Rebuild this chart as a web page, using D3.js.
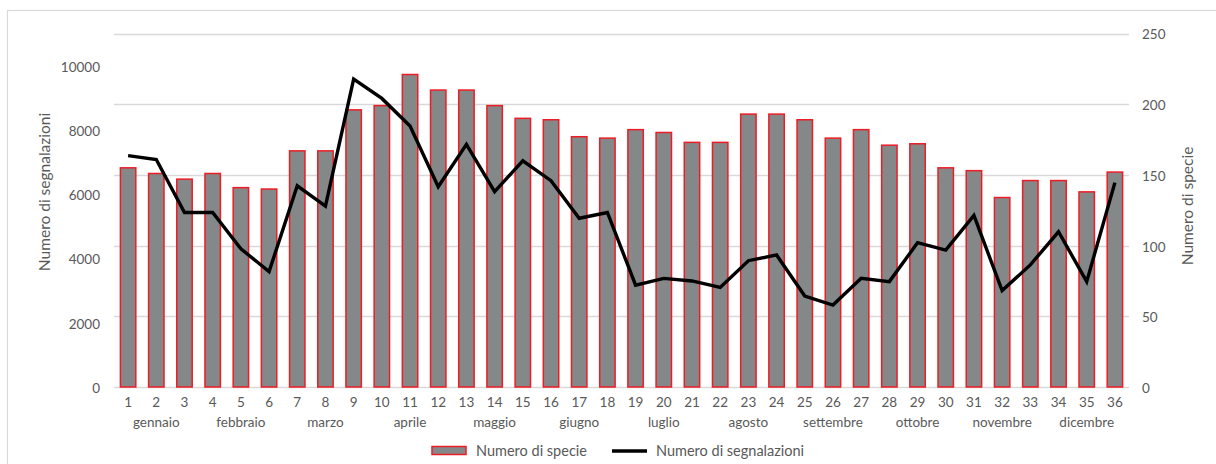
<!DOCTYPE html>
<html>
<head>
<meta charset="utf-8">
<script src="https://cdn.jsdelivr.net/npm/d3@7"></script>
<style>
  html, body { margin: 0; padding: 0; background: #fff; }
  svg { display: block; }
  text { font-family: Lato, "Open Sans", sans-serif; fill: #595959; }
</style>
</head>
<body>
<svg id="chart" width="1216" height="464"></svg>
<script>
const weeks = d3.range(1, 37).map(String);
const months = ["gennaio","febbraio","marzo","aprile","maggio","giugno","luglio","agosto","settembre","ottobre","novembre","dicembre"];
const species = [155,151,147,151,141,140,167,167,196,199,221,210,210,199,190,189,177,176,182,180,173,173,193,193,189,176,182,171,172,155,153,134,146,146,138,152];
const reports = [7200,7080,5430,5430,4300,3590,6260,5630,9580,8980,8120,6230,7550,6080,7040,6420,5250,5430,3170,3380,3300,3100,3930,4110,2830,2550,3380,3280,4490,4260,5340,3000,3800,4830,3280,6360];
const leftTicks = [0,2000,4000,6000,8000,10000];
const rightTicks = [0,50,100,150,200,250];
const seriesNames = ["Numero di specie","Numero di segnalazioni"];
const axisTitles = ["Numero di segnalazioni","Numero di specie"];

const svg = d3.select("#chart");
const m = {left:114, right:1129, top:33.5, bottom:387};

// outer frame
svg.append("rect").attr("x",7.5).attr("y",10.5).attr("width",1230).attr("height",480)
  .attr("fill","none").attr("stroke","#d9d9d9").attr("stroke-width",1.2);

const x = d3.scaleBand().domain(weeks).range([m.left, m.right]).paddingInner(0.4).paddingOuter(0.2);
const yR = d3.scaleLinear().domain([0,250]).range([m.bottom, m.top]);
const yL = d3.scaleLinear().domain([0,11000]).range([m.bottom, m.top]);

// gridlines (right axis)
svg.append("g").selectAll("line").data(rightTicks).join("line")
  .attr("x1", m.left).attr("x2", m.right)
  .attr("y1", d => Math.round(yR(d))+0.5).attr("y2", d => Math.round(yR(d))+0.5)
  .attr("stroke","#d9d9d9").attr("stroke-width",1.3);

// bars
svg.append("g").selectAll("rect").data(species).join("rect")
  .attr("x", (d,i) => x(weeks[i]) + 0.75)
  .attr("y", d => yR(d))
  .attr("width", x.bandwidth() - 1.5)
  .attr("height", d => m.bottom - yR(d))
  .attr("fill","#858889").attr("stroke","#ee1c25").attr("stroke-width",1.5);

// line
const line = d3.line().x((d,i) => x(weeks[i]) + x.bandwidth()/2).y(d => yL(d));
svg.append("path").datum(reports).attr("d", line)
  .attr("fill","none").attr("stroke","#000").attr("stroke-width",3.4).attr("stroke-linejoin","miter");

// left axis
const gL = svg.append("g").attr("transform",`translate(${m.left},0)`)
  .call(d3.axisLeft(yL).tickValues(leftTicks).tickFormat(d3.format("d")).tickSize(0).tickPadding(14));
gL.select(".domain").remove();
gL.selectAll("text").attr("font-size","13.5px").attr("fill","#595959").attr("dy","0.4em");

// right axis
const gR = svg.append("g").attr("transform",`translate(${m.right},0)`)
  .call(d3.axisRight(yR).tickValues(rightTicks).tickSize(0).tickPadding(13));
gR.select(".domain").remove();
gR.selectAll("text").attr("font-size","13.5px").attr("fill","#595959").attr("dy","0.4em");

// bottom axis
const gB = svg.append("g").attr("transform",`translate(0,${m.bottom})`)
  .call(d3.axisBottom(x).tickSize(0).tickPadding(10));
gB.select(".domain").remove();
gB.selectAll("text").attr("font-size","13.5px").attr("fill","#595959");

// month labels under every third week (2,5,8,...)
svg.append("g").selectAll("text").data(months).join("text")
  .attr("x", (d,i) => x(weeks[i*3+1]) + x.bandwidth()/2)
  .attr("y", 427)
  .attr("text-anchor","middle").attr("font-size","13.5px").text(d => d);

// axis titles
svg.append("text").attr("transform","translate(50,192) rotate(-90)")
  .attr("text-anchor","middle").attr("font-size","15.5px").text(axisTitles[0]);
svg.append("text").attr("transform","translate(1193,206) rotate(-90)")
  .attr("text-anchor","middle").attr("font-size","15.5px").text(axisTitles[1]);

// legend
const lg = svg.append("g");
lg.append("rect").attr("x",432).attr("y",446.5).attr("width",34).attr("height",8)
  .attr("fill","#858889").attr("stroke","#ee1c25").attr("stroke-width",1.5);
lg.append("text").attr("x",476).attr("y",456).attr("font-size","14.5px").text(seriesNames[0]);
lg.append("line").attr("x1",612).attr("x2",647).attr("y1",451).attr("y2",451)
  .attr("stroke","#000").attr("stroke-width",3.5);
lg.append("text").attr("x",656).attr("y",456).attr("font-size","14.5px").text(seriesNames[1]);
</script>
</body>
</html>
